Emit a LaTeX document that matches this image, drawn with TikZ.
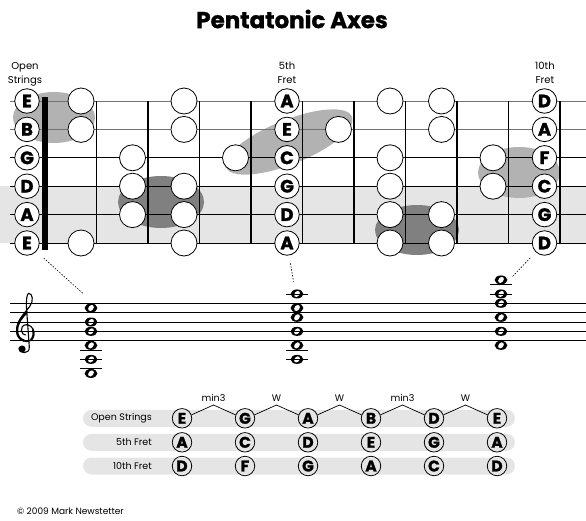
\documentclass[tikz,border=0pt]{standalone}
\usepackage{fontspec}
\setmainfont{Poppins}[BoldFeatures={FakeBold=1.2}]
\usetikzlibrary{positioning,calc}

\definecolor{bandgray}{gray}{0.9}
\definecolor{shadegray}{gray}{0.7}
\definecolor{deepgray}{gray}{0.5}

\tikzset{
  fretdot/.style={circle,draw,fill=white,line width=0.8pt,minimum size=26pt,inner sep=0pt},
  namedot/.style={circle,draw,fill=white,line width=0.8pt,minimum size=24.5pt,inner sep=0pt,
    font=\bfseries\fontsize{18}{18}\selectfont},
  tabdot/.style={circle,draw,line width=0.8pt,minimum size=19.5pt,inner sep=0pt,
    font=\bfseries\fontsize{15.5}{15.5}\selectfont},
  smalltext/.style={font=\fontsize{9.5}{14}\selectfont,align=center,inner sep=0pt},
  guide/.style={line width=0.6pt,dash pattern=on 1.5pt off 1.5pt},
}

\begin{document}
\begin{tikzpicture}[x=1pt,y=-1pt]
    \useasboundingbox (0,0) rectangle (586,520);
    \node (title) at (292,19) {\bfseries\fontsize{23}{23}\selectfont Pentatonic Axes};

    % Fretboard: background shading
    \fill[bandgray] (0,186.2) rectangle (586,243);
    \fill[shadegray] (54,117.5) ellipse [x radius=41, y radius=25.5];
    \fill[deepgray] (161,202) ellipse [x radius=43, y radius=26];
    \fill[shadegray, rotate around={22:(289,142)}] (289,142) ellipse [x radius=68, y radius=22];
    \fill[deepgray] (417,230) ellipse [x radius=42, y radius=25];
    \fill[shadegray] (519,172.5) ellipse [x radius=41, y radius=25.5];

    % Strings, frets and nut
    \foreach \s in {1,2}
        \draw[line width=0.8pt, black!55] (10,{101+28.4*(\s-1)}) -- (586,{101+28.4*(\s-1)});
    \foreach \s in {3,...,6}
        \draw[line width=0.8pt] (10,{101+28.4*(\s-1)}) -- (586,{101+28.4*(\s-1)});
    \foreach \f in {1,...,10}
        \draw[line width=1.1pt] ({45+51.5*\f},101) -- ({45+51.5*\f},243);
    \fill (42,96.5) rectangle (48,250);

    % Open strings, 5th fret and 10th fret
    \foreach \s/\open/\five/\ten in {1/E/A/D, 2/B/E/A, 3/G/C/F, 4/D/G/C, 5/A/D/G, 6/E/A/D} {
        \node[namedot] (o\s) at (27,{101+28.4*(\s-1)}) {\open};
        \node[namedot] (v\s) at (287,{101+28.4*(\s-1)}) {\five};
        \node[namedot] (x\s) at (544.5,{101+28.4*(\s-1)}) {\ten};
    }
    % Other scale tones
    \foreach \s/\fl in {1/{1,3,7,8}, 2/{1,3,6,8}, 3/{2,4,7,9}, 4/{2,3,7,9}, 5/{2,3,7,8}, 6/{1,3,7,8}}
        \foreach \f in \fl
            \node[fretdot] (n\s-\f) at ({29.5+51.5*\f},{101+28.4*(\s-1)}) {};

    \node[smalltext, font=\fontsize{10}{14}\selectfont] (openlbl) at (25,74) {Open\\Strings};
    \node[smalltext, font=\fontsize{10}{14}\selectfont] (fivelbl) at (287,73) {5th\\Fret};
    \node[smalltext, font=\fontsize{10}{14}\selectfont] (tenlbl) at (545,73) {10th\\Fret};

    % Staff with chords
    \foreach \cx/\p in {91/-7, 91/-4, 91/-1, 91/2, 91/4, 91/7,
                        297/-4, 297/-1, 297/2, 297/5, 297/7, 297/10,
                        501/-1, 501/2, 501/5, 501/8, 501/10, 501/13} {
        \fill (\cx,{340.7-4.675*\p}) ellipse [x radius=6.4, y radius=4.5];
        \fill[white, rotate around={-40:(\cx,{340.7-4.675*\p})}] (\cx,{340.7-4.675*\p}) ellipse [x radius=2.4, y radius=3.4];
    }
    \foreach \k in {0,...,4}
        \draw[line width=0.8pt] (10,{340.7-9.35*\k}) -- (586,{340.7-9.35*\k});
    \foreach \cx/\p in {91/-2, 91/-4, 91/-6, 297/-2, 297/-4, 297/10, 501/10, 501/12}
        \draw[line width=0.8pt] (\cx-11,{340.7-4.675*\p}) -- (\cx+11,{340.7-4.675*\p});

    % Treble clef (one staff space = 1)
    \begin{scope}[shift={(26,331.7)}, x=9.35pt, y=9.35pt, line cap=round]
        \draw[line width=1.1pt]
            (-0.75,-1.75) .. controls (-0.8,-2.35) and (0.45,-2.5) .. (0.35,-1.6)
            -- (0.05,2.6)
            .. controls (0.0,3.3) and (0.1,4.1) .. (0.3,4.1)
            .. controls (0.7,4.1) and (0.85,3.3) .. (0.4,2.7)
            .. controls (-0.3,1.8) and (-1.0,1.2) .. (-1.0,0.1)
            .. controls (-1.0,-0.7) and (-0.4,-1.05) .. (0.1,-1.05)
            .. controls (0.6,-1.05) and (0.9,-0.6) .. (0.85,-0.1)
            .. controls (0.8,0.5) and (0.35,0.75) .. (0.05,0.75)
            .. controls (-0.35,0.75) and (-0.55,0.4) .. (-0.5,0.1)
            .. controls (-0.45,-0.2) and (-0.2,-0.35) .. (-0.05,-0.35);
        \draw[line width=2.2pt]
            (0.1,2.1) .. controls (-0.45,1.5) and (-0.95,1.0) .. (-0.95,0.1)
            .. controls (-0.95,-0.5) and (-0.6,-0.85) .. (-0.2,-0.95);
        \draw[line width=2pt]
            (0.55,-0.85) .. controls (0.8,-0.6) and (0.85,-0.2) .. (0.75,0.2);
        \fill (-0.42,-1.85) circle (0.38);
    \end{scope}

    \coordinate (c1) at (83,293.5);
    \coordinate (c2) at (293.5,281.5);
    \coordinate (c3) at (512.5,276.5);
    \draw[guide, shorten <=10pt] (o6) -- (c1);
    \draw[guide, shorten <=8pt] (v6) -- (c2);
    \draw[guide, shorten <=8pt] (x6) -- (c3);

    % Interval table
    \foreach \r/\lbl/\notes/\y in {1/Open Strings/{E,G,A,B,D,E}/418.3,
                                   2/5th Fret/{A,C,D,E,G,A}/442.3,
                                   3/10th Fret/{D,F,G,A,C,D}/466} {
        \fill[bandgray, rounded corners=8.5pt] (83,\y-8.5) rectangle (515,\y+8.5);
        \node[anchor=east, smalltext] (lbl\r) at (152,\y) {\lbl};
        \foreach \n [count=\i] in \notes
            \node[tabdot] (r\r-\i) at ({182+63*(\i-1)},\y) {\n};
    }
    \foreach \i/\iv in {1/min3, 2/W, 3/W, 4/min3, 5/W} {
        \pgfmathtruncatemacro\j{\i+1}
        \coordinate (pk\i) at ($(r1-\i)!0.5!(r1-\j)+(0,-13.3)$);
        \draw[line width=0.7pt] (r1-\i.20) -- (pk\i) -- (r1-\j.160);
        \node[smalltext, above=3pt] (iv\i) at (pk\i) {\iv};
    }

    \node[anchor=west, inner sep=0pt, font=\fontsize{9}{11}\selectfont] (credit) at (17,511) {© 2009 Mark Newstetter};
\end{tikzpicture}
\end{document}
